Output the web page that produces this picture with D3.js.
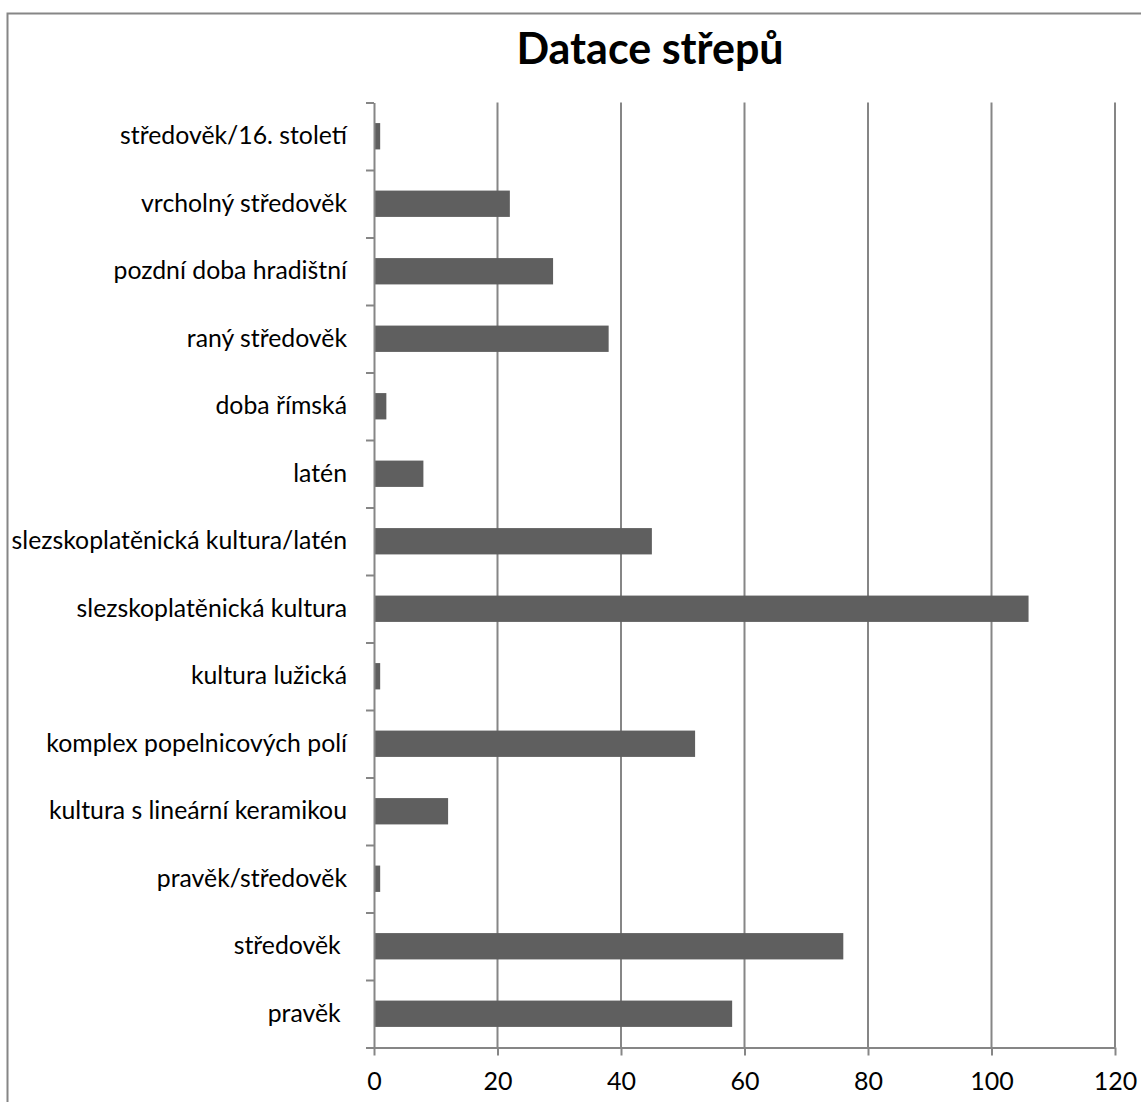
<!DOCTYPE html>
<html><head><meta charset="utf-8">
<script src="https://cdn.jsdelivr.net/npm/d3@7"></script>
<style>body{margin:0;background:#fff;}svg{display:block;}</style>
</head><body>
<script>
const title = "Datace střepů";
const categories = ["středověk/16. století","vrcholný středověk","pozdní doba hradištní","raný středověk","doba římská","latén","slezskoplatěnická kultura/latén","slezskoplatěnická kultura","kultura lužická","komplex popelnicových polí","kultura s lineární keramikou","pravěk/středověk","středověk ","pravěk "];
const values = [1,22,29,38,2,8,45,106,1,52,12,1,76,58];
const xTicks = [0,20,40,60,80,100,120];

const W = 1141, H = 1102;
const m = {left:374, right:1115, top:102.5, bottom:1047.5};
const svg = d3.select("body").append("svg").attr("width",W).attr("height",H);
const font = "Lato, 'Open Sans', sans-serif";

svg.append("rect").attr("x",7.5).attr("y",13.5).attr("width",W+20).attr("height",H+20)
  .attr("fill","none").attr("stroke","#868686").attr("stroke-width",2);

const x = d3.scaleLinear().domain([0,120]).range([m.left,m.right]);
const y = d3.scaleBand().domain(categories).range([m.top,m.bottom]).paddingInner(0.61).paddingOuter(0.305);

// gridlines
svg.append("g").selectAll("line").data(xTicks.slice(1)).join("line")
  .attr("x1",d=>x(d)).attr("x2",d=>x(d)).attr("y1",m.top).attr("y2",m.bottom)
  .attr("stroke","#868686").attr("stroke-width",2);

// bars
svg.append("g").selectAll("rect").data(values).join("rect")
  .attr("x",x(0)).attr("y",(d,i)=>y(categories[i]))
  .attr("width",d=>x(d)-x(0)).attr("height",y.bandwidth())
  .attr("fill","#5f5f5f");

// x axis
const xa = svg.append("g").attr("transform",`translate(0,${m.bottom})`)
  .call(d3.axisBottom(x).tickValues(xTicks).tickSize(8).tickPadding(17).tickSizeOuter(0));
xa.select(".domain").attr("stroke","#868686").attr("stroke-width",2);
xa.selectAll(".tick line").attr("stroke","#868686").attr("stroke-width",2);
xa.selectAll("text").attr("font-family",font).attr("font-size",25).attr("fill","#000");

// y axis with ticks between categories
const yb = d3.scaleLinear().domain([0,categories.length]).range([m.top,m.bottom]);
const ya = svg.append("g").attr("transform",`translate(${m.left},0)`)
  .call(d3.axisLeft(yb).tickValues(d3.range(0,categories.length+1)).tickSize(8).tickFormat("").tickSizeOuter(0));
ya.select(".domain").attr("stroke","#868686").attr("stroke-width",2);
ya.selectAll(".tick line").attr("stroke","#868686").attr("stroke-width",2);

svg.append("g").selectAll("text").data(categories).join("text")
  .attr("x",m.left-27).attr("y",d=>y(d)+y.bandwidth()/2)
  .attr("dy","0.32em").attr("text-anchor","end")
  .style("white-space","pre")
  .attr("font-family",font).attr("font-size",24.8).attr("fill","#000")
  .text(d=>d);

svg.append("text").attr("x",650).attr("y",64).attr("text-anchor","middle")
  .attr("font-family",font).attr("font-weight","bold").attr("font-size",43).attr("fill","#000")
  .text(title);
</script>
</body></html>
